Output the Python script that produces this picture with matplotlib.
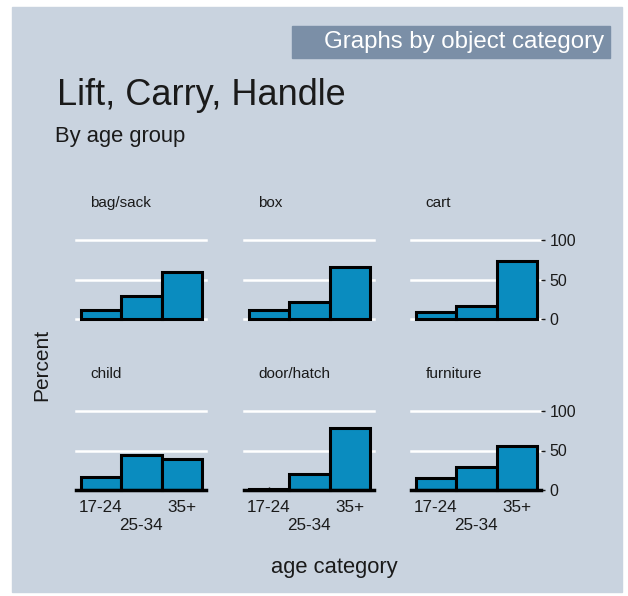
import matplotlib.pyplot as plt
import numpy as np

plt.rcParams['font.family'] = ['Liberation Sans', 'DejaVu Sans']

# data: percent of each age group within object category
age_groups = ['17-24', '25-34', '35+']
categories = ['bag/sack', 'box', 'cart', 'child', 'door/hatch', 'furniture']
bag_sack = [12, 29, 59]
box = [12, 22, 66]
cart = [9, 17, 74]
child = [17, 44, 39]
door_hatch = [1, 20, 79]
furniture = [15, 29, 56]
values = [bag_sack, box, cart, child, door_hatch, furniture]
y_ticks = [0, 50, 100]

W, H = 628, 596
bg = '#c9d3df'
bar_color = '#0a8cbf'

fig = plt.figure(figsize=(W / 100, H / 100), dpi=100)
fig.patch.set_facecolor('white')


def fx(x):
    return x / W


def fy(y):
    return 1 - y / H


# gray panel + banner
fig.patches.append(plt.Rectangle((fx(12), fy(592)), fx(610), (592 - 7) / H,
                                 transform=fig.transFigure, color=bg, zorder=-2))
fig.patches.append(plt.Rectangle((fx(292), fy(58)), fx(318), 32 / H,
                                 transform=fig.transFigure, color='#7b8fa7', zorder=-1))
fig.text(fx(604), fy(42), 'Graphs by object category', color='white',
         fontsize=17.3, ha='right', va='center')

fig.text(fx(57), fy(105), 'Lift, Carry, Handle', fontsize=26, color='#1a1a1a',
         ha='left', va='baseline')
fig.text(fx(55), fy(142), 'By age group', fontsize=15.8, color='#1a1a1a',
         ha='left', va='baseline')
fig.text(fx(42), fy(365), 'Percent', fontsize=15, rotation=90,
         ha='center', va='center', color='#1a1a1a')
fig.text(fx(334), fy(568), 'age category', fontsize=15.8,
         ha='center', va='center', color='#1a1a1a')

lefts = [76, 244, 411]
bottoms = [319, 490]   # pixel y of 0
ax_w, ax_h = 130, 79
x = np.arange(1, 4)

for i, (cat, vals) in enumerate(zip(categories, values)):
    r, c = divmod(i, 3)
    ax = fig.add_axes([fx(lefts[c]), fy(bottoms[r]), ax_w / W, ax_h / H])
    ax.set_zorder(2)
    ax.set_facecolor('none')
    ax.set_xlim(0.38, 3.6)
    ax.set_ylim(0, 100)
    for yv in y_ticks:
        ax.axhline(yv, color='white', lw=1.8, zorder=1, clip_on=False)
    ax.bar(x, vals, width=1.0, color=bar_color, edgecolor='black',
           linewidth=2.2, zorder=3, clip_on=False)
    for s in ax.spines.values():
        s.set_visible(False)
    ax.text(0.11, 1.47, cat, transform=ax.transAxes, fontsize=11,
            ha='left', va='center', color='#1a1a1a')
    if c == 2:
        ax.yaxis.tick_right()
        ax.set_yticks(y_ticks)
        ax.tick_params(axis='y', length=3, width=1, pad=3, labelsize=11.5,
                       colors='#1a1a1a')
    else:
        ax.set_yticks([])
    ax.set_xticks(x)
    if r == 1:
        ax.spines['bottom'].set_visible(True)
        ax.spines['bottom'].set_linewidth(2.5)
        ax.spines['bottom'].set_zorder(4)
        ax.tick_params(axis='x', direction='in', length=2, width=1,
                       labelbottom=False)
        for j, lab in enumerate(age_groups):
            yoff = -0.22 if j != 1 else -0.45
            ax.text(x[j], yoff, lab, transform=ax.get_xaxis_transform(),
                    ha='center', va='center', fontsize=12.3, color='#1a1a1a')
    else:
        ax.tick_params(axis='x', length=0, labelbottom=False)

fig.savefig('out.png', dpi=100, facecolor='white')
